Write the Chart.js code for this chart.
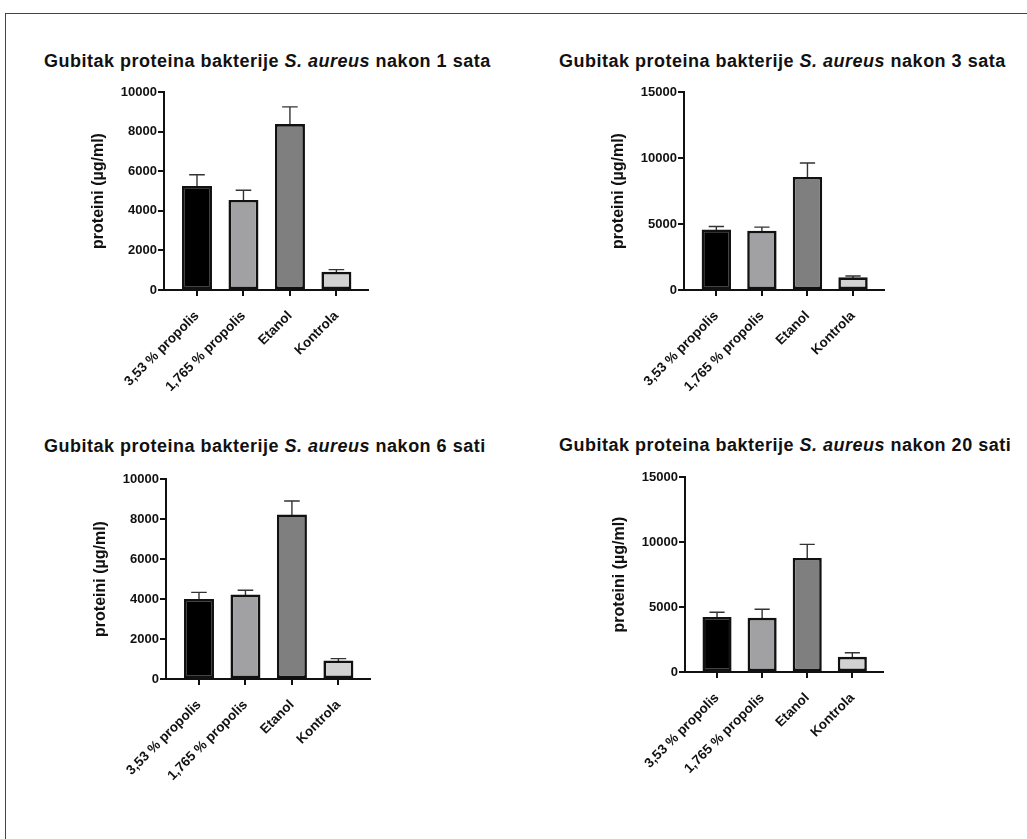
<!DOCTYPE html>
<html>
<head>
<meta charset="utf-8">
<script src="https://cdn.jsdelivr.net/npm/chart.js@4.4.1/dist/chart.umd.min.js"></script>
<style>
  html, body { margin: 0; padding: 0; background: #fff; width: 1027px; height: 839px; overflow: hidden; }
  #frame { position: absolute; left: 5px; top: 13px; width: 1100px; height: 900px; border: 1.5px solid #444; }
  .title { position: absolute; font: bold 18px "Liberation Sans", Arial, sans-serif; line-height: 20px;
           color: #111; white-space: nowrap; letter-spacing: 0.5px; }
  canvas { position: absolute; }
</style>
</head>
<body>
<div id="frame"></div>
<script>
// categories on the x axis
const categories = ["3,53 % propolis", "1,765 % propolis", "Etanol", "Kontrola"];
const times = ["1 sata", "3 sata", "6 sati", "20 sati"];

// mean protein loss (µg/ml) and SD
const mean1h = [5250, 4550, 8380, 920];
const sd1h = [570, 490, 870, 110];
const mean3h = [4580, 4480, 8560, 960];
const sd3h = [230, 280, 1060, 100];
const mean6h = [4000, 4230, 8230, 930];
const sd6h = [330, 210, 670, 90];
const mean20h = [4240, 4170, 8770, 1170];
const sd20h = [360, 660, 1050, 310];

const yMax = [10000, 15000, 10000, 15000];
const yStep = [2000, 5000, 2000, 5000];

const barColors = ["#000000", "#a1a1a3", "#7f7f7f", "#d2d2d2"];

// where each panel sits on the page (axis box + title)
const panels = [
  { means: mean1h, sds: sd1h, axisX: 164, axisR: 368, top: 92, bottom: 290, titleX: 44, titleY: 61 },
  { means: mean3h, sds: sd3h, axisX: 684, axisR: 884, top: 92, bottom: 290, titleX: 559, titleY: 61 },
  { means: mean6h, sds: sd6h, axisX: 166, axisR: 370, top: 479, bottom: 679, titleX: 44, titleY: 446 },
  { means: mean20h, sds: sd20h, axisX: 684.5, axisR: 883, top: 477, bottom: 672, titleX: 559, titleY: 445 }
];

const FONT = '"Liberation Sans", Arial, sans-serif';
const AXIS_W = 110, PAD_TOP = 20, PAD_RIGHT = 20, XAXIS_H = 130;

const errorBars = {
  id: "errorBars",
  beforeDatasetsDraw(chart) {
    const ctx = chart.ctx;
    const y = chart.scales.y;
    const ds = chart.data.datasets[0];
    const meta = chart.getDatasetMeta(0);
    ctx.save();
    ctx.strokeStyle = "#333";
    ctx.lineWidth = 1.4;
    meta.data.forEach((bar, i) => {
      const top = y.getPixelForValue(ds.data[i].y + ds.errors[i]);
      const half = bar.width * 0.26;
      ctx.beginPath();
      ctx.moveTo(bar.x, bar.y + 2);
      ctx.lineTo(bar.x, top);
      ctx.moveTo(bar.x - half, top);
      ctx.lineTo(bar.x + half, top);
      ctx.stroke();
    });
    ctx.restore();
  }
};

panels.forEach((p, k) => {
  const t = document.createElement("div");
  t.className = "title";
  t.style.left = p.titleX + "px";
  t.style.top = (p.titleY - 10) + "px";
  t.innerHTML = "Gubitak proteina bakterije <i>S. aureus</i> nakon " + times[k];
  document.body.appendChild(t);

  const cv = document.createElement("canvas");
  const w = AXIS_W + (p.axisR - p.axisX) + PAD_RIGHT;
  const h = PAD_TOP + (p.bottom - p.top) + XAXIS_H;
  cv.width = w;
  cv.height = h;
  cv.style.left = (p.axisX - AXIS_W) + "px";
  cv.style.top = (p.top - PAD_TOP) + "px";
  cv.style.width = w + "px";
  cv.style.height = h + "px";
  document.body.appendChild(cv);

  new Chart(cv, {
    type: "bar",
    data: {
      datasets: [{
        data: p.means.map((v, i) => ({ x: i, y: v })),
        errors: p.sds,
        backgroundColor: barColors,
        borderColor: "#111",
        borderWidth: 2.6,
        borderSkipped: false,
        barPercentage: 0.645,
        categoryPercentage: 1
      }]
    },
    options: {
      responsive: false,
      animation: false,
      devicePixelRatio: 1,
      layout: { padding: { top: PAD_TOP, right: PAD_RIGHT, left: 0, bottom: 0 } },
      plugins: { legend: { display: false }, tooltip: { enabled: false }, title: { display: false } },
      scales: {
        x: {
          type: "linear",
          min: -0.71,
          max: 3.68,
          offset: false,
          afterBuildTicks: s => { s.ticks = categories.map((c, i) => ({ value: i })); },
          afterFit: s => { s.height = XAXIS_H; },
          border: { display: true, color: "#111", width: 2 },
          grid: { offset: false, drawOnChartArea: false, drawTicks: true, tickLength: 6, color: "#111", lineWidth: 2 },
          ticks: {
            autoSkip: false,
            minRotation: 45,
            maxRotation: 45,
            padding: 12,
            color: "#111",
            font: { family: FONT, size: 13.5, weight: "bold" },
            callback: v => categories[v]
          }
        },
        y: {
          min: 0,
          max: yMax[k],
          afterFit: s => { s.width = AXIS_W; },
          border: { display: true, color: "#111", width: 2 },
          grid: { drawOnChartArea: false, drawTicks: true, tickLength: 6, color: "#111", lineWidth: 2 },
          ticks: {
            stepSize: yStep[k],
            padding: 1,
            color: "#111",
            font: { family: FONT, size: 13, weight: "bold" },
            callback: v => String(v)
          },
          title: {
            display: true,
            text: "proteini (µg/ml)",
            color: "#111",
            font: { family: FONT, size: 16, weight: "bold" },
            padding: { top: 35, bottom: 0 }
          }
        }
      }
    },
    plugins: [errorBars]
  });
});
</script>
</body>
</html>
